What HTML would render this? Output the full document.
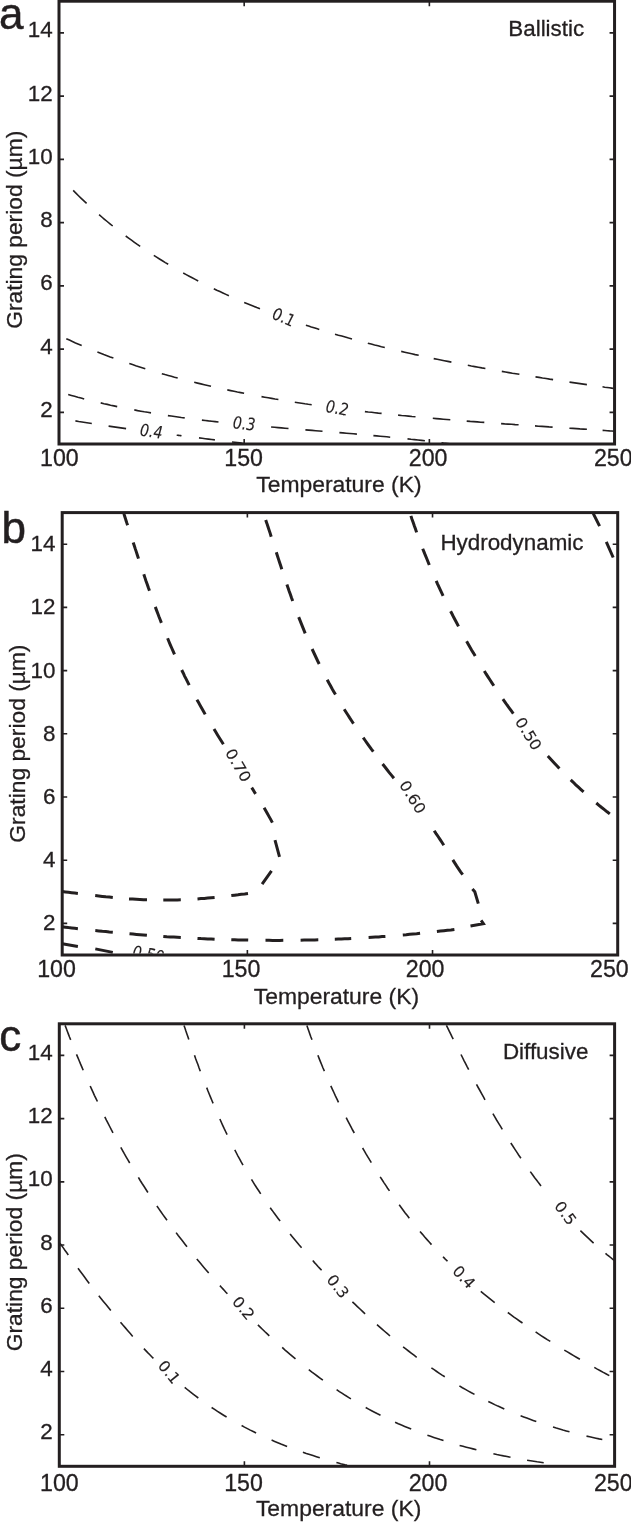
<!DOCTYPE html>
<html lang="en"><head><meta charset="utf-8"><title>Figure</title>
<style>
html,body{margin:0;padding:0;background:#fff;}
body{width:631px;height:1523px;overflow:hidden;}
svg{display:block;}
text{font-family:"Liberation Sans",Arial,Helvetica,sans-serif;fill:#231f20;stroke:#231f20;stroke-width:0.3px;}
.tl{font-size:22.4px;}
.xl{font-size:23.2px;}
.al{font-size:22.8px;}
.xa{font-size:22.9px;}
.tt{font-size:22.4px;}
.pl{font-size:44px;stroke-width:0.5px;}
.cl{font-family:"DejaVu Sans",sans-serif;font-style:oblique;font-size:14.2px;stroke-width:0.12px;}
</style></head><body>
<svg width="631" height="1523" viewBox="0 0 631 1523">
<defs><clipPath id="clipb"><rect x="62" y="513" width="556" height="440.6"/></clipPath></defs>

<g fill="none" stroke="#231f20" stroke-linecap="butt" stroke-linejoin="miter">
<path d="M73.2,190.4 L75.9,193.1 L78.5,195.7 L81.2,198.3 L83.9,200.9 L86.6,203.4 M99.1,214.6 L101.8,217.0 L104.5,219.3 L107.2,221.5 L110.0,223.8 L112.7,226.0 M125.7,236.0 L128.6,238.1 L131.5,240.2 L134.4,242.3 L137.3,244.4 L140.2,246.4 M153.8,255.4 L156.6,257.2 L159.5,259.0 L162.4,260.8 L165.3,262.6 L168.2,264.3 M183.2,273.0 L186.2,274.6 L189.2,276.2 L192.2,277.8 L195.2,279.4 L198.2,281.0 M213.8,288.7 L216.8,290.2 L219.9,291.6 L222.9,293.0 L225.9,294.4 L228.9,295.8 M244.2,302.4 L247.4,303.7 L250.5,305.0 L253.7,306.3 L256.8,307.6 L260.0,308.8 M305.9,325.2 L308.6,326.1 L311.3,327.0 L314.0,327.8 L316.6,328.6 L319.3,329.5 M335.0,334.2 L338.4,335.2 L341.8,336.1 L345.2,337.1 L348.6,338.1 L352.0,339.0 M367.8,343.2 L371.2,344.1 L374.6,345.0 L378.0,345.8 L381.4,346.7 L384.8,347.5 M401.2,351.4 L404.7,352.2 L408.2,353.0 L411.7,353.8 L415.2,354.6 L418.7,355.3 M433.7,358.6 L437.2,359.3 L440.8,360.0 L444.3,360.7 L447.8,361.4 L451.4,362.1 M467.8,365.3 L471.3,366.0 L474.8,366.6 L478.3,367.2 L481.8,367.9 L485.4,368.5 M501.8,371.4 L505.4,372.0 L508.9,372.6 L512.4,373.2 L515.9,373.7 L519.4,374.3 M535.5,376.9 L539.0,377.4 L542.5,378.0 L546.1,378.5 L549.6,379.1 L553.1,379.6 M569.5,382.1 L573.0,382.6 L576.5,383.1 L580.0,383.6 L583.4,384.1 L586.9,384.6 M602.5,386.8 L604.8,387.2 L607.1,387.5 L609.4,387.8 L611.6,388.1 L613.9,388.5" stroke-width="1.6"/>
<path d="M66.3,338.7 L69.4,340.1 L72.4,341.5 L75.5,342.9 L78.6,344.2 L81.7,345.5 M97.4,352.0 L100.6,353.2 L103.8,354.5 L107.0,355.7 L110.2,356.9 L113.4,358.0 M129.3,363.6 L132.5,364.6 L135.7,365.7 L138.9,366.7 L142.1,367.7 L145.3,368.7 M161.8,373.7 L165.0,374.6 L168.2,375.4 L171.3,376.3 L174.5,377.2 L177.7,378.0 M194.2,382.3 L197.6,383.1 L200.9,383.9 L204.3,384.7 L207.7,385.5 L211.0,386.3 M227.3,389.9 L230.7,390.6 L234.0,391.3 L237.4,392.0 L240.7,392.6 L244.1,393.3 M261.5,396.6 L264.8,397.2 L268.2,397.8 L271.6,398.4 L275.0,399.0 L278.4,399.5 M294.8,402.2 L298.1,402.7 L301.5,403.2 L304.9,403.8 L308.3,404.3 L311.7,404.7 M364.9,411.6 L368.2,412.0 L371.6,412.3 L374.9,412.7 L378.3,413.1 L381.6,413.4 M398.1,415.1 L401.6,415.5 L405.0,415.8 L408.5,416.1 L412.0,416.5 L415.5,416.8 M432.8,418.3 L436.3,418.6 L439.8,418.9 L443.3,419.2 L446.8,419.5 L450.3,419.8 M466.7,421.1 L470.2,421.4 L473.7,421.6 L477.3,421.9 L480.8,422.2 L484.3,422.4 M501.1,423.6 L504.6,423.9 L508.1,424.1 L511.6,424.3 L515.1,424.6 L518.6,424.8 M535.0,425.9 L538.5,426.2 L542.0,426.4 L545.5,426.6 L549.1,426.9 L552.6,427.1 M569.4,428.2 L572.9,428.4 L576.4,428.6 L579.9,428.9 L583.4,429.1 L586.9,429.3 M602.6,430.4 L604.9,430.5 L607.2,430.7 L609.6,430.9 L611.9,431.0 L614.2,431.2" stroke-width="1.6"/>
<path d="M68.2,394.5 L71.4,395.4 L74.6,396.3 L77.8,397.2 L81.0,398.0 L84.2,398.9 M100.7,402.9 L104.0,403.7 L107.3,404.4 L110.6,405.2 L113.9,405.9 L117.2,406.6 M134.3,409.9 L137.6,410.6 L140.9,411.2 L144.3,411.8 L147.6,412.3 L151.0,412.9 M167.9,415.6 L171.2,416.0 L174.6,416.5 L177.9,417.0 L181.3,417.5 L184.7,417.9 M201.9,420.1 L205.2,420.5 L208.5,420.9 L211.9,421.2 L215.2,421.6 L218.5,422.0 M271.1,427.0 L274.6,427.3 L278.1,427.6 L281.5,427.9 L285.0,428.2 L288.5,428.5 M305.4,429.9 L308.8,430.1 L312.2,430.4 L315.7,430.7 L319.1,431.0 L322.5,431.3 M339.4,432.6 L342.9,432.9 L346.4,433.2 L349.9,433.5 L353.4,433.8 L356.9,434.1 M373.4,435.6 L376.7,435.9 L380.1,436.2 L383.5,436.5 L386.8,436.8 L390.2,437.2 M407.5,438.9 L411.0,439.3 L414.5,439.6 L418.0,440.0 L421.5,440.4 L424.9,440.8 M441.5,442.7 L443.5,443.0 L445.6,443.2 L447.7,443.5 L449.8,443.8 L451.9,444.0" stroke-width="1.6"/>
<path d="M75.4,420.9 L78.7,421.5 L82.0,422.0 L85.2,422.5 L88.5,423.0 L91.8,423.5 M108.6,426.1 L112.1,426.6 L115.6,427.1 L119.1,427.6 L122.6,428.1 L126.1,428.6 M176.7,435.2 L177.7,435.3 L178.6,435.4 L179.6,435.5 L180.5,435.6 L181.5,435.8 M199.0,437.9 L202.2,438.3 L205.3,438.7 L208.5,439.1 L211.7,439.5 L214.9,439.9 M232.0,442.0 L234.6,442.3 L237.2,442.6 L239.8,442.9 L242.4,443.3 L245.0,443.6" stroke-width="1.6"/>
<path d="M123.9,513.8 L124.6,516.1 L125.4,518.4 L126.1,520.7 L126.8,522.9 L127.6,525.2 M133.2,542.5 L134.3,545.7 L135.3,548.9 L136.4,552.1 L137.4,555.3 L138.5,558.6 M143.8,574.2 L144.9,577.6 L146.0,580.9 L147.2,584.2 L148.3,587.5 L149.5,590.8 M155.3,606.9 L156.5,610.1 L157.7,613.3 L158.9,616.5 L160.2,619.7 L161.4,622.9 M167.6,638.3 L168.9,641.5 L170.3,644.8 L171.7,648.0 L173.1,651.2 L174.5,654.4 M181.7,670.0 L183.2,673.0 L184.6,676.1 L186.2,679.1 L187.7,682.1 L189.2,685.2 M196.9,699.7 L198.6,702.6 L200.2,705.6 L201.9,708.6 L203.6,711.5 L205.2,714.4 M214.0,729.1 L215.8,732.1 L217.7,735.2 L219.6,738.2 L221.5,741.2 L223.4,744.2 M251.7,787.7 L252.5,788.9 L253.3,790.1 L254.1,791.4 L254.8,792.6 L255.6,793.8 M264.1,807.8 L265.8,810.7 L267.5,813.7 L269.1,816.6 L270.8,819.6 L272.4,822.6 M275.0,840.2 L279.5,856.9 M271.5,870.9 L262.1,884.1 M248.0,893.4 L244.7,893.9 L241.3,894.3 L238.0,894.8 L234.6,895.2 L231.3,895.6 M214.6,897.5 L211.2,897.8 L207.7,898.1 L204.3,898.4 L200.9,898.6 L197.5,898.9 M180.8,899.8 L177.3,899.9 L173.8,900.0 L170.3,900.0 L166.8,900.1 L163.3,900.1 M147.0,899.8 L143.4,899.7 L139.8,899.5 L136.2,899.3 L132.6,899.1 L129.0,898.9 M112.8,897.5 L109.3,897.1 L105.8,896.8 L102.3,896.4 L98.8,896.0 L95.2,895.6 M77.9,893.5 L74.8,893.1 L71.6,892.7 L68.5,892.3 L65.4,891.9 L62.2,891.5" stroke-width="3.0"/>
<path d="M265.7,520.1 L266.9,523.4 L268.0,526.8 L269.1,530.1 L270.2,533.4 L271.2,536.7 M276.3,552.3 L277.4,555.7 L278.5,559.1 L279.6,562.5 L280.7,565.8 L281.8,569.2 M286.9,584.5 L288.1,587.9 L289.2,591.2 L290.4,594.5 L291.5,597.8 L292.7,601.1 M298.7,617.1 L300.0,620.4 L301.3,623.6 L302.6,626.9 L303.9,630.1 L305.2,633.4 M312.1,649.0 L313.5,652.0 L314.9,655.0 L316.3,658.0 L317.7,661.0 L319.2,664.0 M327.2,679.7 L328.8,682.7 L330.5,685.7 L332.1,688.7 L333.8,691.7 L335.5,694.6 M344.2,709.3 L346.1,712.2 L347.9,715.0 L349.7,717.9 L351.6,720.8 L353.5,723.6 M363.2,737.7 L365.2,740.5 L367.2,743.3 L369.2,746.1 L371.2,748.9 L373.3,751.7 M382.6,764.0 L384.8,766.8 L387.1,769.7 L389.3,772.6 L391.6,775.4 L393.9,778.3 M434.2,830.7 L436.1,833.6 L438.1,836.5 L440.0,839.4 L441.9,842.3 L443.8,845.2 M452.8,859.9 L454.7,862.9 L456.6,865.9 L458.6,868.8 L460.6,871.8 L462.7,874.6 M472.4,889.0 L474.8,891.8 L478.3,903.7 M481.1,920.4 L483.4,923.7 L470.5,925.9 M454.4,929.4 L450.9,929.9 L447.4,930.3 L443.9,930.7 L440.4,931.1 L436.9,931.5 M420.1,933.3 L416.6,933.7 L413.1,934.0 L409.7,934.3 L406.2,934.7 L402.8,935.0 M385.4,936.4 L382.1,936.6 L378.7,936.9 L375.4,937.1 L372.0,937.3 L368.6,937.5 M351.2,938.5 L348.0,938.7 L344.7,938.8 L341.4,939.0 L338.1,939.1 L334.8,939.2 M318.3,939.8 L314.8,939.9 L311.2,940.0 L307.7,940.0 L304.1,940.1 L300.6,940.2 M283.3,940.3 L279.8,940.4 L276.2,940.4 L272.6,940.4 L269.1,940.3 L265.5,940.3 M248.2,940.1 L244.8,940.0 L241.4,940.0 L238.1,939.9 L234.7,939.8 L231.3,939.7 M214.6,939.2 L211.2,939.0 L207.7,938.9 L204.3,938.7 L200.9,938.6 L197.5,938.4 M180.8,937.5 L177.3,937.3 L173.8,937.1 L170.3,936.9 L166.8,936.7 L163.3,936.4 M146.9,935.3 L143.4,935.0 L140.0,934.7 L136.5,934.4 L133.0,934.1 L129.5,933.8 M112.8,932.3 L109.3,932.0 L105.8,931.6 L102.3,931.3 L98.8,930.9 L95.3,930.6 M77.9,928.7 L74.8,928.3 L71.6,927.9 L68.5,927.6 L65.3,927.2 L62.2,926.8" stroke-width="3.0"/>
<path d="M410.9,515.9 L412.0,519.2 L413.2,522.5 L414.3,525.8 L415.5,529.1 L416.6,532.4 M422.7,548.7 L424.0,551.9 L425.3,555.2 L426.7,558.5 L428.0,561.8 L429.3,565.0 M436.2,580.8 L437.5,583.8 L438.9,586.8 L440.3,589.8 L441.7,592.8 L443.1,595.8 M450.6,611.3 L452.2,614.3 L453.7,617.3 L455.3,620.3 L456.9,623.3 L458.5,626.4 M466.6,641.3 L468.3,644.3 L470.0,647.2 L471.7,650.2 L473.5,653.1 L475.2,656.1 M484.3,670.9 L486.1,673.9 L488.0,676.9 L489.9,679.8 L491.9,682.8 L493.8,685.7 M502.9,699.2 L505.0,702.1 L507.0,705.0 L509.1,707.9 L511.2,710.7 L513.3,713.6 M547.8,756.0 L550.1,758.5 L552.4,761.0 L554.7,763.5 L557.1,766.0 L559.4,768.5 M570.7,779.9 L573.3,782.3 L575.8,784.8 L578.4,787.2 L581.0,789.6 L583.6,791.9 M596.3,803.0 L599.0,805.3 L601.7,807.5 L604.4,809.6 L607.1,811.8 L609.8,813.9" stroke-width="3.0"/>
<path d="M593.3,513.6 L599.6,526.2 M606.3,541.9 L613.2,557.5" stroke-width="3.0"/>
<path d="M62.2,943.7 L77.9,946.5 M95.3,948.9 L112.8,952.4" stroke-width="3.0"/>
<path d="M59.9,1243.2 L61.6,1245.5 L63.3,1247.9 L64.9,1250.3 L66.6,1252.6 L68.3,1255.0 M78.0,1268.3 L80.2,1271.3 L82.5,1274.3 L84.7,1277.3 L87.0,1280.4 L89.3,1283.4 M98.8,1295.7 L101.2,1298.7 L103.6,1301.7 L106.0,1304.6 L108.4,1307.6 L110.8,1310.6 M120.5,1322.2 L122.9,1325.1 L125.4,1327.9 L127.8,1330.7 L130.3,1333.6 L132.7,1336.4 M143.9,1348.6 L145.8,1350.6 L147.7,1352.6 L149.6,1354.5 L151.5,1356.5 L153.4,1358.4 M184.7,1387.3 L187.3,1389.5 L190.0,1391.7 L192.8,1393.8 L195.5,1395.9 L198.3,1398.0 M211.6,1407.5 L214.6,1409.4 L217.5,1411.4 L220.5,1413.3 L223.6,1415.2 L226.6,1417.0 M241.6,1425.5 L244.5,1427.1 L247.4,1428.6 L250.3,1430.1 L253.2,1431.5 L256.1,1433.0 M271.6,1440.1 L274.7,1441.4 L277.8,1442.7 L280.9,1444.0 L284.0,1445.2 L287.1,1446.4 M302.9,1452.2 L306.3,1453.4 L309.7,1454.5 L313.0,1455.6 L316.4,1456.7 L319.8,1457.8 M336.4,1462.5 L338.5,1463.1 L340.7,1463.7 L342.8,1464.2 L345.0,1464.8 L347.1,1465.3" stroke-width="1.6"/>
<path d="M65.1,1025.4 L66.2,1028.3 L67.3,1031.2 L68.4,1034.1 L69.5,1037.0 L70.7,1039.9 M76.5,1054.4 L77.9,1057.6 L79.2,1060.7 L80.5,1063.9 L81.9,1067.1 L83.2,1070.2 M90.2,1086.0 L91.6,1089.1 L93.0,1092.2 L94.4,1095.3 L95.9,1098.4 L97.4,1101.5 M104.8,1116.9 L106.4,1120.1 L108.1,1123.3 L109.7,1126.5 L111.3,1129.7 L113.0,1132.9 M120.8,1147.4 L122.6,1150.6 L124.3,1153.7 L126.1,1156.8 L127.9,1159.9 L129.7,1163.0 M138.4,1177.4 L140.2,1180.5 L142.1,1183.5 L144.1,1186.5 L146.0,1189.5 L147.9,1192.5 M156.9,1206.0 L158.9,1208.9 L160.9,1211.8 L162.9,1214.6 L165.0,1217.5 L167.0,1220.3 M176.1,1232.6 L178.2,1235.5 L180.4,1238.3 L182.6,1241.1 L184.8,1244.0 L187.0,1246.8 M196.8,1258.9 L199.2,1261.7 L201.5,1264.6 L203.9,1267.4 L206.3,1270.2 L208.7,1273.0 M219.9,1285.6 L221.4,1287.3 L222.9,1288.9 L224.4,1290.5 L225.9,1292.2 L227.4,1293.8 M257.9,1324.9 L260.2,1327.1 L262.4,1329.3 L264.7,1331.5 L267.0,1333.6 L269.3,1335.8 M282.2,1347.4 L284.8,1349.8 L287.5,1352.1 L290.1,1354.4 L292.8,1356.6 L295.5,1358.9 M308.8,1369.6 L311.6,1371.8 L314.4,1373.9 L317.2,1376.0 L320.0,1378.1 L322.9,1380.2 M336.6,1389.7 L339.4,1391.6 L342.3,1393.4 L345.2,1395.3 L348.1,1397.1 L350.9,1398.9 M365.7,1407.5 L368.6,1409.1 L371.6,1410.7 L374.5,1412.2 L377.5,1413.8 L380.5,1415.3 M395.1,1422.2 L398.3,1423.7 L401.5,1425.1 L404.7,1426.4 L408.0,1427.8 L411.2,1429.1 M427.4,1435.2 L430.6,1436.3 L433.8,1437.4 L437.1,1438.5 L440.3,1439.6 L443.5,1440.6 M459.6,1445.4 L463.0,1446.3 L466.3,1447.2 L469.7,1448.1 L473.0,1448.9 L476.4,1449.8 M493.4,1453.7 L496.8,1454.5 L500.2,1455.2 L503.6,1455.9 L507.0,1456.5 L510.5,1457.2 M527.1,1460.2 L530.5,1460.7 L533.8,1461.2 L537.1,1461.8 L540.4,1462.3 L543.7,1462.8" stroke-width="1.6"/>
<path d="M184.0,1025.5 L185.0,1028.3 L185.9,1031.1 L186.9,1033.9 L187.9,1036.7 L188.8,1039.5 M194.5,1055.3 L195.6,1058.5 L196.8,1061.7 L198.0,1064.8 L199.1,1068.0 L200.3,1071.2 M206.7,1087.6 L207.9,1090.8 L209.2,1094.0 L210.5,1097.1 L211.8,1100.3 L213.1,1103.4 M219.9,1119.0 L221.3,1122.2 L222.7,1125.3 L224.1,1128.4 L225.6,1131.5 L227.1,1134.6 M234.8,1149.9 L236.4,1153.0 L238.0,1156.1 L239.7,1159.1 L241.3,1162.2 L243.0,1165.2 M251.5,1179.4 L253.3,1182.4 L255.1,1185.3 L257.0,1188.2 L258.9,1191.0 L260.7,1193.9 M270.2,1207.7 L272.2,1210.4 L274.1,1213.1 L276.1,1215.8 L278.1,1218.5 L280.1,1221.1 M290.1,1233.9 L292.3,1236.7 L294.6,1239.5 L296.9,1242.3 L299.2,1245.1 L301.6,1247.8 M312.8,1260.6 L314.5,1262.6 L316.3,1264.5 L318.0,1266.5 L319.8,1268.4 L321.6,1270.3 M352.4,1301.8 L354.9,1304.2 L357.4,1306.6 L360.0,1309.0 L362.5,1311.4 L365.1,1313.8 M377.0,1324.6 L379.5,1326.9 L382.1,1329.2 L384.8,1331.5 L387.4,1333.7 L390.0,1336.0 M403.1,1346.8 L405.8,1348.9 L408.5,1351.0 L411.2,1353.1 L414.0,1355.2 L416.7,1357.3 M431.4,1367.9 L434.1,1369.7 L436.7,1371.5 L439.4,1373.3 L442.1,1375.1 L444.8,1376.8 M459.4,1385.9 L462.4,1387.7 L465.4,1389.4 L468.4,1391.1 L471.4,1392.8 L474.5,1394.4 M488.3,1401.5 L491.5,1403.0 L494.7,1404.6 L497.9,1406.1 L501.1,1407.5 L504.3,1409.0 M520.6,1415.7 L523.7,1416.9 L526.8,1418.1 L530.0,1419.3 L533.1,1420.4 L536.3,1421.5 M553.0,1427.1 L556.3,1428.1 L559.6,1429.0 L562.9,1430.0 L566.2,1430.9 L569.5,1431.8 M586.5,1436.1 L589.7,1436.8 L592.8,1437.5 L596.0,1438.2 L599.1,1438.9 L602.3,1439.5" stroke-width="1.6"/>
<path d="M306.9,1025.6 L307.9,1028.5 L308.9,1031.3 L309.9,1034.2 L310.9,1037.0 L312.0,1039.8 M317.9,1055.3 L319.1,1058.4 L320.4,1061.6 L321.7,1064.8 L323.0,1068.0 L324.4,1071.1 M330.8,1085.9 L332.3,1089.2 L333.9,1092.5 L335.4,1095.8 L337.0,1099.1 L338.5,1102.4 M346.2,1117.7 L347.8,1120.8 L349.4,1123.9 L351.0,1126.9 L352.6,1130.0 L354.3,1133.0 M362.6,1148.0 L364.3,1150.9 L366.0,1153.9 L367.8,1156.8 L369.5,1159.7 L371.3,1162.6 M380.2,1176.9 L382.1,1179.8 L383.9,1182.6 L385.8,1185.4 L387.6,1188.2 L389.5,1190.9 M399.2,1204.7 L401.2,1207.4 L403.2,1210.2 L405.2,1212.9 L407.3,1215.5 L409.3,1218.2 M420.0,1231.5 L422.3,1234.1 L424.5,1236.8 L426.8,1239.4 L429.2,1242.0 L431.5,1244.6 M443.0,1256.7 L443.9,1257.6 L444.8,1258.6 L445.7,1259.5 L446.6,1260.4 L447.5,1261.3 M480.8,1291.4 L483.5,1293.7 L486.3,1295.9 L489.1,1298.2 L491.9,1300.4 L494.7,1302.6 M507.8,1312.5 L510.7,1314.6 L513.6,1316.8 L516.6,1318.9 L519.5,1321.0 L522.5,1323.0 M535.6,1331.9 L538.5,1333.9 L541.4,1335.8 L544.4,1337.7 L547.3,1339.6 L550.3,1341.4 M564.3,1350.1 L567.4,1351.9 L570.5,1353.8 L573.6,1355.6 L576.8,1357.5 L579.9,1359.3 M594.3,1367.4 L597.3,1369.1 L600.3,1370.7 L603.3,1372.4 L606.3,1374.0 L609.3,1375.6" stroke-width="1.6"/>
<path d="M446.4,1025.4 L447.8,1028.2 L449.1,1030.9 L450.5,1033.7 L451.8,1036.4 L453.2,1039.1 M461.0,1054.5 L462.5,1057.5 L464.0,1060.6 L465.6,1063.6 L467.1,1066.6 L468.7,1069.6 M476.5,1084.4 L478.2,1087.5 L479.9,1090.5 L481.6,1093.6 L483.3,1096.7 L485.0,1099.8 M492.9,1113.6 L494.8,1116.8 L496.6,1120.0 L498.5,1123.1 L500.4,1126.2 L502.3,1129.3 M510.8,1143.0 L512.8,1146.0 L514.8,1149.1 L516.8,1152.1 L518.8,1155.2 L520.9,1158.2 M530.3,1171.6 L532.4,1174.5 L534.5,1177.4 L536.7,1180.2 L538.8,1183.1 L541.0,1185.9 M580.4,1230.6 L583.0,1233.1 L585.6,1235.6 L588.3,1238.1 L590.9,1240.6 L593.6,1243.1 M605.5,1253.4 L607.2,1254.8 L608.9,1256.1 L610.6,1257.5 L612.3,1258.9 L614.1,1260.3" stroke-width="1.6"/>
</g>
<g stroke="#231f20" fill="none">
<rect x="59.00" y="1.20" width="555.55" height="442.80" stroke-width="3.0"/>
<path d="M59.00,412.37h5.0 M614.55,412.37h-5.0 M59.00,349.11h5.0 M614.55,349.11h-5.0 M59.00,285.86h5.0 M614.55,285.86h-5.0 M59.00,222.60h5.0 M614.55,222.60h-5.0 M59.00,159.34h5.0 M614.55,159.34h-5.0 M59.00,96.09h5.0 M614.55,96.09h-5.0 M59.00,32.83h5.0 M614.55,32.83h-5.0 M244.18,1.20v5.0 M244.18,444.00v-5.0 M429.37,1.20v5.0 M429.37,444.00v-5.0" stroke-width="1.6"/>
</g>
<text class="tl" x="52.6" y="416.8" text-anchor="end">2</text>
<text class="tl" x="52.6" y="353.5" text-anchor="end">4</text>
<text class="tl" x="52.6" y="290.3" text-anchor="end">6</text>
<text class="tl" x="52.6" y="227.0" text-anchor="end">8</text>
<text class="tl" x="52.6" y="163.7" text-anchor="end">10</text>
<text class="tl" x="52.6" y="100.5" text-anchor="end">12</text>
<text class="tl" x="52.6" y="37.2" text-anchor="end">14</text>
<text class="xl" x="59.4" y="465.7" text-anchor="middle">100</text>
<text class="xl" x="243.6" y="465.7" text-anchor="middle">150</text>
<text class="xl" x="428.1" y="465.7" text-anchor="middle">200</text>
<text class="xl" x="613.3" y="465.7" text-anchor="middle">250</text>
<text class="xa" x="338.9" y="491.5" text-anchor="middle">Temperature (K)</text>
<text class="al" transform="translate(22.3,229.8) rotate(-90)" text-anchor="middle">Grating period (µm)</text>
<text class="tt" x="584.2" y="36.2" text-anchor="end">Ballistic</text>
<text class="pl" x="-1.1" y="28.8">a</text>
<g stroke="#231f20" fill="none">
<rect x="62.20" y="512.60" width="555.50" height="442.40" stroke-width="3.0"/>
<path d="M62.20,923.40h5.0 M617.70,923.40h-5.0 M62.20,860.20h5.0 M617.70,860.20h-5.0 M62.20,797.00h5.0 M617.70,797.00h-5.0 M62.20,733.80h5.0 M617.70,733.80h-5.0 M62.20,670.60h5.0 M617.70,670.60h-5.0 M62.20,607.40h5.0 M617.70,607.40h-5.0 M62.20,544.20h5.0 M617.70,544.20h-5.0 M247.37,512.60v5.0 M247.37,955.00v-5.0 M432.53,512.60v5.0 M432.53,955.00v-5.0" stroke-width="1.6"/>
</g>
<text class="tl" x="55.4" y="930.4" text-anchor="end">2</text>
<text class="tl" x="55.4" y="867.2" text-anchor="end">4</text>
<text class="tl" x="55.4" y="804.0" text-anchor="end">6</text>
<text class="tl" x="55.4" y="740.8" text-anchor="end">8</text>
<text class="tl" x="55.4" y="677.6" text-anchor="end">10</text>
<text class="tl" x="55.4" y="614.4" text-anchor="end">12</text>
<text class="tl" x="55.4" y="551.2" text-anchor="end">14</text>
<text class="xl" x="56.5" y="976.8" text-anchor="middle">100</text>
<text class="xl" x="241.0" y="976.8" text-anchor="middle">150</text>
<text class="xl" x="425.1" y="976.8" text-anchor="middle">200</text>
<text class="xl" x="609.4" y="976.8" text-anchor="middle">250</text>
<text class="xa" x="336.4" y="1003.7" text-anchor="middle">Temperature (K)</text>
<text class="al" transform="translate(25.4,743.6) rotate(-90)" text-anchor="middle">Grating period (µm)</text>
<text class="tt" x="583.5" y="550.1" text-anchor="end">Hydrodynamic</text>
<text class="pl" x="1.4" y="542.8">b</text>
<g stroke="#231f20" fill="none">
<rect x="59.30" y="1023.80" width="555.30" height="442.50" stroke-width="3.0"/>
<path d="M59.30,1434.69h5.0 M614.60,1434.69h-5.0 M59.30,1371.48h5.0 M614.60,1371.48h-5.0 M59.30,1308.26h5.0 M614.60,1308.26h-5.0 M59.30,1245.05h5.0 M614.60,1245.05h-5.0 M59.30,1181.84h5.0 M614.60,1181.84h-5.0 M59.30,1118.62h5.0 M614.60,1118.62h-5.0 M59.30,1055.41h5.0 M614.60,1055.41h-5.0 M244.40,1023.80v5.0 M244.40,1466.30v-5.0 M429.50,1023.80v5.0 M429.50,1466.30v-5.0" stroke-width="1.6"/>
</g>
<text class="tl" x="52.6" y="1439.1" text-anchor="end">2</text>
<text class="tl" x="52.6" y="1375.9" text-anchor="end">4</text>
<text class="tl" x="52.6" y="1312.7" text-anchor="end">6</text>
<text class="tl" x="52.6" y="1249.5" text-anchor="end">8</text>
<text class="tl" x="52.6" y="1186.2" text-anchor="end">10</text>
<text class="tl" x="52.6" y="1123.0" text-anchor="end">12</text>
<text class="tl" x="52.6" y="1059.8" text-anchor="end">14</text>
<text class="xl" x="59.4" y="1491.0" text-anchor="middle">100</text>
<text class="xl" x="243.5" y="1491.0" text-anchor="middle">150</text>
<text class="xl" x="428.0" y="1491.0" text-anchor="middle">200</text>
<text class="xl" x="613.3" y="1491.0" text-anchor="middle">250</text>
<text class="xa" x="338.6" y="1516.2" text-anchor="middle">Temperature (K)</text>
<text class="al" transform="translate(22.3,1252.2) rotate(-90)" text-anchor="middle">Grating period (µm)</text>
<text class="tt" x="588.4" y="1058.8" text-anchor="end">Diffusive</text>
<text class="pl" x="-0.7" y="1051.2">c</text>
<text class="cl" transform="translate(283.9,317.0) scale(1,1.2) rotate(20)" text-anchor="middle" dy="0.36em">0.1</text>
<text class="cl" transform="translate(337.3,407.8) scale(1,1.2) rotate(9)" text-anchor="middle" dy="0.36em">0.2</text>
<text class="cl" transform="translate(244.3,423.3) scale(1,1.2) rotate(5)" text-anchor="middle" dy="0.36em">0.3</text>
<text class="cl" transform="translate(151.4,431.0) scale(1,1.2) rotate(7)" text-anchor="middle" dy="0.36em">0.4</text>
<text class="cl" transform="translate(238.4,765.2) scale(1,1.2) rotate(55)" text-anchor="middle" dy="0.36em">0.70</text>
<text class="cl" transform="translate(412.8,797.0) scale(1,1.2) rotate(53)" text-anchor="middle" dy="0.36em">0.60</text>
<text class="cl" transform="translate(528.6,733.6) scale(1,1.2) rotate(53)" text-anchor="middle" dy="0.36em">0.50</text>
<g clip-path="url(#clipb)"><text class="cl" transform="translate(148.5,954.2) scale(1,1.2) rotate(9)" text-anchor="middle" dy="0.36em">0.50</text></g>
<text class="cl" transform="translate(169.4,1371.9) scale(1,1.2) rotate(45)" text-anchor="middle" dy="0.36em">0.1</text>
<text class="cl" transform="translate(243.6,1308.1) scale(1,1.2) rotate(45)" text-anchor="middle" dy="0.36em">0.2</text>
<text class="cl" transform="translate(338.0,1286.3) scale(1,1.2) rotate(46)" text-anchor="middle" dy="0.36em">0.3</text>
<text class="cl" transform="translate(464.0,1276.9) scale(1,1.2) rotate(42)" text-anchor="middle" dy="0.36em">0.4</text>
<text class="cl" transform="translate(565.5,1213.0) scale(1,1.2) rotate(48)" text-anchor="middle" dy="0.36em">0.5</text>
</svg></body></html>
